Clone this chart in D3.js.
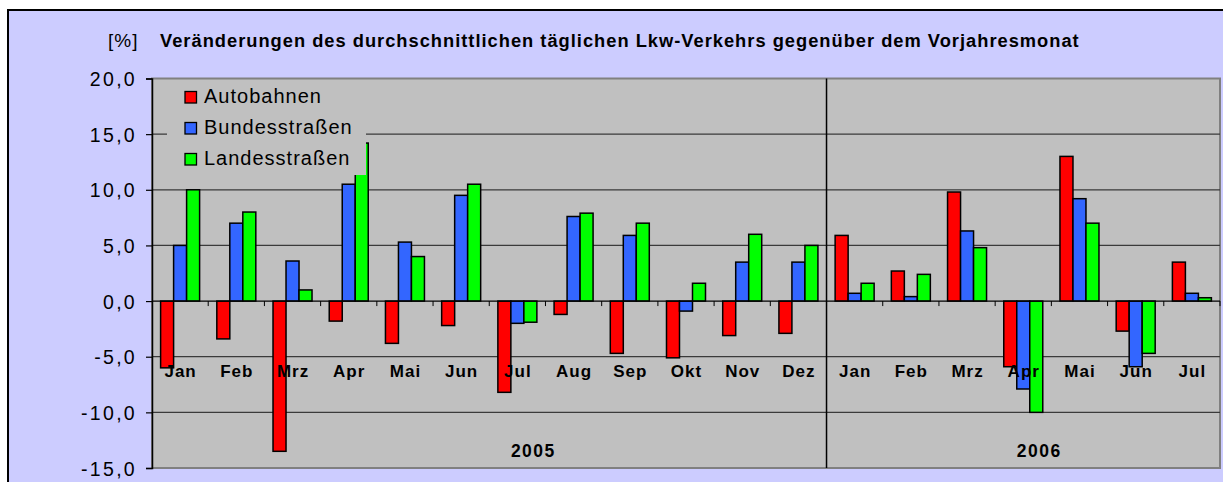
<!DOCTYPE html>
<html>
<head>
<meta charset="utf-8">
<script src="https://cdn.jsdelivr.net/npm/d3@7"></script>
<style>
  body { margin: 0; background: #fff; }
  text { font-family: "Liberation Sans", Arial, sans-serif; }
</style>
</head>
<body>
<svg id="chart"></svg>
<script>
var width = 1223;
var height = 482;

// data
var months = ["Jan","Feb","Mrz","Apr","Mai","Jun","Jul","Aug","Sep","Okt","Nov","Dez","Jan","Feb","Mrz","Apr","Mai","Jun","Jul"];
var years = ["2005","2005","2005","2005","2005","2005","2005","2005","2005","2005","2005","2005","2006","2006","2006","2006","2006","2006","2006"];
var seriesNames = ["Autobahnen", "Bundesstraßen", "Landesstraßen"];
var autobahnen = [-6.0,-3.4,-13.5,-1.8,-3.8,-2.2,-8.2,-1.2,-4.7,-5.1,-3.1,-2.9,5.9,2.7,9.8,-5.9,13.0,-2.7,3.5];
var bundesstrassen = [5.0,7.0,3.6,10.5,5.3,9.5,-2.0,7.6,5.9,-0.9,3.5,3.5,0.7,0.4,6.3,-7.9,9.2,-5.9,0.7];
var landesstrassen = [10.0,8.0,1.0,14.2,4.0,10.5,-1.9,7.9,7.0,1.6,6.0,5.0,1.6,2.4,4.8,-10.0,7.0,-4.7,0.3];
var yTicks = [-15,-10,-5,0,5,10,15,20];
var colors = ["#ff0000", "#3366ff", "#00ff00"];

var cats = months.map(function (m, i) { return years[i] + "-" + m; });
var allSeries = [autobahnen, bundesstrassen, landesstrassen];

var svg = d3.select("#chart")
  .attr("width", width)
  .attr("height", height);

// outer chart area
svg.append("rect").attr("x", 8).attr("y", 10).attr("width", 1240).attr("height", 500)
  .attr("fill", "#ccccff").attr("stroke", "#000").attr("stroke-width", 2);

var pLeft = 152, pRight = 1220, pTop = 78.5, pBottom = 468;

var y = d3.scaleLinear().domain([-15, 20]).range([pBottom, pTop]);
var x = d3.scaleBand().domain(cats).range([pLeft, pRight]);
var bw = 13;
var xs = d3.scaleBand().domain(seriesNames)
  .range([(x.bandwidth() - 3 * bw) / 2, (x.bandwidth() + 3 * bw) / 2]);

var de = d3.formatLocale({decimal: ",", thousands: ".", grouping: [3], currency: ["", " €"], minus: "-"});
var fmt = de.format(".1f");

// plot area
svg.append("rect").attr("x", pLeft).attr("y", pTop).attr("width", pRight - pLeft).attr("height", pBottom - pTop)
  .attr("fill", "#c0c0c0").attr("stroke", "#808080").attr("stroke-width", 2);

// grid
svg.append("g").selectAll("line").data(yTicks.filter(function (t) { return t > -15 && t < 20 && t != 0; }))
  .enter().append("line")
  .attr("x1", pLeft).attr("x2", pRight)
  .attr("y1", function (d) { return y(d); }).attr("y2", function (d) { return y(d); })
  .attr("stroke", "#3a3a3a").attr("stroke-width", 1.2);

// divider between the years
var split = x(cats[12]);
svg.append("line").attr("x1", split).attr("x2", split).attr("y1", pTop).attr("y2", pBottom)
  .attr("stroke", "#000").attr("stroke-width", 1.5);

// bars
var groups = svg.append("g").selectAll("g").data(cats).enter().append("g")
  .attr("transform", function (d) { return "translate(" + x(d) + ",0)"; });
groups.selectAll("rect")
  .data(function (d, i) { return allSeries.map(function (s, k) { return {name: seriesNames[k], v: s[i], k: k}; }); })
  .enter().append("rect")
  .attr("x", function (d) { return xs(d.name); })
  .attr("width", xs.bandwidth())
  .attr("y", function (d) { return y(Math.max(0, d.v)); })
  .attr("height", function (d) { return Math.abs(y(d.v) - y(0)); })
  .attr("fill", function (d) { return colors[d.k]; })
  .attr("stroke", "#000").attr("stroke-width", 1.5);

// zero axis with category ticks
svg.append("line").attr("x1", pLeft).attr("x2", pRight).attr("y1", y(0)).attr("y2", y(0))
  .attr("stroke", "#000").attr("stroke-width", 1.2);
svg.append("g").selectAll("line").data(cats.slice(1).concat(["end"])).enter().append("line")
  .attr("x1", function (d) { return d == "end" ? pRight : x(d); })
  .attr("x2", function (d) { return d == "end" ? pRight : x(d); })
  .attr("y1", y(0)).attr("y2", y(0) + 5)
  .attr("stroke", "#000").attr("stroke-width", 1);

// y axis
var yAxis = d3.axisLeft(y).tickValues(yTicks).tickSize(6).tickPadding(9).tickFormat(fmt);
var ya = svg.append("g").attr("transform", "translate(" + pLeft + ",0)").call(yAxis);
ya.select(".domain").attr("stroke", "#000").attr("stroke-width", 1.5);
ya.selectAll(".tick line").attr("stroke", "#000").attr("stroke-width", 1.2);
ya.selectAll(".tick text").attr("font-size", "19.5px").attr("fill", "#000")
  .attr("font-family", "Liberation Sans, Arial, sans-serif")
  .attr("letter-spacing", "2.3px").attr("dy", "0.36em");

// month labels
svg.append("g").selectAll("text").data(cats).enter().append("text")
  .attr("x", function (d) { return x(d) + x.bandwidth() / 2 + 0.5; })
  .attr("y", 377)
  .attr("text-anchor", "middle")
  .attr("font-size", "17px").attr("font-weight", "bold").attr("letter-spacing", "1px")
  .text(function (d, i) { return months[i]; });

// year labels
var yearList = ["2005", "2006"];
svg.append("g").selectAll("text").data(yearList).enter().append("text")
  .attr("x", function (yr) {
    var idx = cats.filter(function (c, i) { return years[i] == yr; });
    var mid = idx[Math.floor(idx.length / 2)];
    return x(mid) + x.bandwidth() / 2 + 16;
  })
  .attr("y", 456.5)
  .attr("text-anchor", "middle")
  .attr("font-size", "17.5px").attr("font-weight", "bold").attr("letter-spacing", "1.5px")
  .text(function (d) { return d; });

// legend
var lg = svg.append("g");
lg.append("rect").attr("x", 167).attr("y", 80).attr("width", 199).attr("height", 95).attr("fill", "#c0c0c0");
var items = lg.selectAll("g").data(seriesNames).enter().append("g")
  .attr("transform", function (d, i) { return "translate(185," + (91.5 + i * 31) + ")"; });
items.append("rect").attr("width", 11.5).attr("height", 11.5)
  .attr("fill", function (d, i) { return colors[i]; })
  .attr("stroke", "#000").attr("stroke-width", 1.3);
items.append("text").attr("x", 19).attr("y", 11.3)
  .attr("font-size", "20px").attr("letter-spacing", "1px")
  .text(function (d) { return d; });

// titles
svg.append("text").attr("x", 108).attr("y", 47).attr("font-size", "19px").attr("letter-spacing", "1px").text("[%]");
svg.append("text").attr("x", 160).attr("y", 46.5).attr("font-size", "18.3px").attr("font-weight", "bold")
  .attr("letter-spacing", "1px")
  .text("Veränderungen des durchschnittlichen täglichen Lkw-Verkehrs gegenüber dem Vorjahresmonat");
</script>
</body>
</html>
